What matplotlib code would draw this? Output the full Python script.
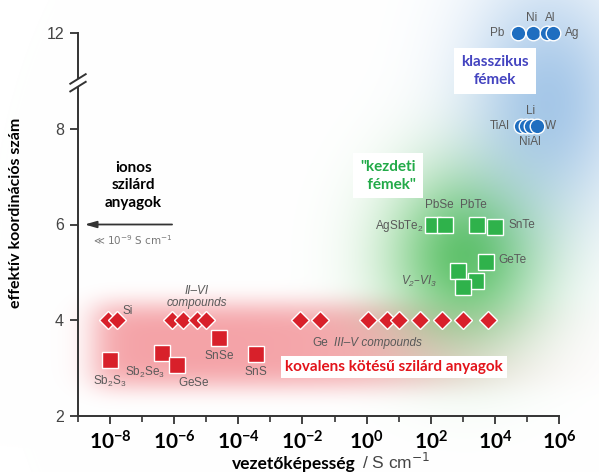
import numpy as np
import matplotlib
matplotlib.use("Agg")
import matplotlib.pyplot as plt
from matplotlib.ticker import NullFormatter, FixedLocator
from matplotlib.transforms import blended_transform_factory

plt.rcParams["font.family"] = ["Liberation Sans", "DejaVu Sans"]

# ---------------- data ----------------
# covalent solids drawn as diamonds (log10 conductivity, effective coordination number)
diamond_logs = [-8.06, -7.78, -6.07, -5.73, -5.29, -5.01, -2.08, -1.45,
                0.04, 0.64, 1.01, 1.66, 2.35, 3.00, 3.78]
diamond_cn = [4, 4, 4, 4, 4, 4, 4, 4, 4, 4, 4, 4, 4, 4, 4]

# covalent chalcogenides drawn as red squares
red_names = ["Sb_2S_3", "Sb_2Se_3", "GeSe", "SnSe", "SnS"]
red_logs = [-8.00, -6.38, -5.91, -4.60, -3.45]
red_cn = [3.17, 3.31, 3.06, 3.63, 3.29]

# incipient metals drawn as green squares
green_logs = [2.07, 2.44, 3.44, 4.00, 3.72, 2.85, 3.41, 3.00]
green_cn = [6.0, 6.0, 6.0, 5.94, 5.21, 5.02, 4.83, 4.69]

# classical metals drawn as blue circles
blue_logs = [4.72, 5.19, 5.62, 5.81, 4.81, 4.97, 5.13, 5.31]
blue_cn = [12, 12, 12, 12, 8.05, 8.05, 8.05, 8.05]

ytick_values = [2, 4, 6, 8, 12]
xtick_exponents = [-8, -6, -4, -2, 0, 2, 4, 6]


def axis_pos(v):
    """Map coordination numbers onto the broken y axis (12 sits at 10)."""
    v = np.asarray(v, dtype=float)
    return np.where(v > 9.5, v - 2.0, v)


RED = "#d8202a"
GREEN = "#2fb24b"
BLUE = "#1f6ec0"
GREY = "#5a5a5a"

W, H = 599, 472
fig = plt.figure(figsize=(W / 100, H / 100), dpi=100)

# ---------------- soft coloured glows ----------------
bg = fig.add_axes([0, 0, 1, 1], zorder=0)
yy, xx = np.mgrid[0:H, 0:W].astype(float)
img = np.ones((H, W, 3))


def blend(alpha, rgb):
    global img
    a = np.clip(alpha, 0, 1)[..., None]
    img = img * (1 - a) + np.array(rgb)[None, None, :] / 255.0 * a


sig = lambda t: 1 / (1 + np.exp(-t))
red_a = (0.45 * sig((xx - 95) / 10) * sig((440 - xx) / 45)
         * np.exp(-((yy - 345) / 44) ** 4))
blend(red_a, (232, 50, 60))
green_a = 0.85 * np.exp(-(((xx - 465) / 55) ** 2 + ((yy - 255) / 62) ** 2) / 2)
blend(green_a, (70, 185, 80))
blue_a = 0.55 * np.exp(-(((xx - 548) / 58) ** 2 + ((yy - 100) / 85) ** 2) / 2)
blend(blue_a, (95, 155, 215))
bg.imshow(img, extent=[0, W, H, 0], aspect="auto", interpolation="bilinear")
bg.axis("off")

# ---------------- main axes ----------------
ax = fig.add_axes([78 / W, 1 - 416 / H, 481 / W, 383 / H], zorder=1)
ax.patch.set_alpha(0)
ax.set_xscale("log")
ax.set_xlim(1e-9, 1e6)
ax.set_ylim(2, 9.98)

for side in ("top", "right"):
    ax.spines[side].set_visible(False)
for side in ("left", "bottom"):
    ax.spines[side].set_color("#333333")
    ax.spines[side].set_linewidth(1.4)

ax.set_yticks(axis_pos(ytick_values))
ax.set_yticklabels([str(v) for v in ytick_values], fontsize=11.5, color="#444444")
ax.tick_params(axis="y", length=6, width=1.3, color="#333333", pad=4)

ax.xaxis.set_major_locator(FixedLocator([10.0 ** e for e in xtick_exponents]))
ax.xaxis.set_minor_locator(FixedLocator([10.0 ** e for e in range(-9, 6, 2)]))
ax.xaxis.set_minor_formatter(NullFormatter())
ax.set_xticklabels([r"$\mathregular{10^{%d}}$" % e for e in xtick_exponents],
                   fontsize=15, fontweight="bold", family="Lato", color="black")
ax.tick_params(axis="x", which="major", length=6, width=1.3, color="#333333", pad=4)
ax.tick_params(axis="x", which="minor", length=4, width=1.2, color="#333333")

# axis break on the y spine
trans = blended_transform_factory(ax.transAxes, ax.transData)
ax.add_patch(plt.Rectangle((-0.01, 8.88), 0.02, 0.16, transform=trans,
                           facecolor="white", edgecolor="none", clip_on=False, zorder=5))
for yb in (8.88, 9.04):
    ax.plot([-0.016, 0.016], [yb - 0.1, yb + 0.1], transform=trans, color="#333333",
            lw=1.4, clip_on=False, zorder=6)

# ---------------- markers ----------------
ms_kw = dict(linestyle="none", markeredgecolor="white", markeredgewidth=1.0, clip_on=False)
for lx, cn in zip(diamond_logs, diamond_cn):
    ax.plot(10.0 ** lx, cn, marker="D", markersize=9.4, color=RED, zorder=3, **ms_kw)
for lx, cn in zip(red_logs, red_cn):
    ax.plot(10.0 ** lx, cn, marker="s", markersize=11.5, color=RED, zorder=3, **ms_kw)
for lx, cn in zip(green_logs, green_cn):
    ax.plot(10.0 ** lx, cn, marker="s", markersize=11, color=GREEN, zorder=3, **ms_kw)
for lx, cn in zip(blue_logs, axis_pos(blue_cn)):
    ax.plot(10.0 ** lx, cn, marker="o", markersize=10.5, color=BLUE, zorder=3, **ms_kw)

# ---------------- small grey labels ----------------
lab = dict(fontsize=8.5, color=GREY, zorder=4)
ax.text(10 ** -7.44, 4.19, "Si", ha="center", va="center", **lab)
ax.text(10 ** -5.30, 4.49, "II–VI\ncompounds", ha="center", va="center",
        style="italic", linespacing=0.95, **lab)
red_label_pos = [(-8.00, 2.73), (-6.91, 2.90), (-5.38, 2.69), (-4.60, 3.27), (-3.45, 2.92)]
for name, (lx, yv) in zip(red_names, red_label_pos):
    ax.text(10 ** lx, yv, r"$\mathregular{%s}$" % name, ha="center", va="center", **lab)
ax.text(10 ** -1.45, 3.52, "Ge", ha="center", va="center", **lab)
ax.text(10 ** 0.35, 3.52, "III–V compounds", ha="center", va="center", style="italic", **lab)
ax.text(10 ** 1.63, 4.82, r"$\mathregular{V_2}$–$\mathregular{VI_3}$", ha="center",
        va="center", style="italic", **lab)
ax.text(10 ** 4.10, 5.25, "GeTe", ha="left", va="center", **lab)
ax.text(10 ** 4.44, 5.98, "SnTe", ha="left", va="center", **lab)
ax.text(10 ** 2.26, 6.40, "PbSe", ha="center", va="center", **lab)
ax.text(10 ** 3.32, 6.40, "PbTe", ha="center", va="center", **lab)
ax.text(10 ** 1.78, 5.96, r"$\mathregular{AgSbTe_2}$", ha="right", va="center", **lab)

ax.text(10 ** 4.31, 10.0, "Pb", ha="right", va="center", **lab)
ax.text(10 ** 5.16, 10.32, "Ni", ha="center", va="center", **lab)
ax.text(10 ** 5.72, 10.32, "Al", ha="center", va="center", **lab)
ax.text(10 ** 6.19, 10.0, "Ag", ha="left", va="center", **lab)
ax.text(10 ** 5.10, 8.37, "Li", ha="center", va="center", **lab)
ax.text(10 ** 4.47, 8.05, "TiAl", ha="right", va="center", **lab)
ax.text(10 ** 5.56, 8.05, "W", ha="left", va="center", **lab)
ax.text(10 ** 5.10, 7.73, "NiAl", ha="center", va="center", **lab)

# ---------------- group captions ----------------
cap = dict(family="Lato", fontweight="bold", fontsize=11, zorder=4)
box = dict(facecolor="white", edgecolor="none", pad=5)
ax.text(10 ** 4.0, 9.21, "klasszikus\nfémek", ha="center", va="center", color="#4444c0",
        linespacing=1.35, bbox=box, **cap)
ax.text(10 ** 0.67, 7.02, "\"kezdeti\n  fémek\"", ha="center", va="center", color="#22aa48",
        linespacing=1.35, bbox=box, **cap)
ax.text(10 ** -2.55, 3.02, "kovalens kötésű szilárd anyagok", ha="left", va="center",
        color="#e3141b", bbox=dict(facecolor="white", edgecolor="none", pad=3), **cap)
ax.text(10 ** -7.28, 6.82, "ionos\nszilárd\nanyagok", ha="center", va="center",
        color="black", linespacing=1.3, **cap)

ax.annotate("", xy=(10 ** -8.88, 6.0), xytext=(10 ** -5.98, 6.0),
            arrowprops=dict(arrowstyle="-|>,head_length=0.7,head_width=0.2",
                            color="#333333", lw=1.3), zorder=4)
ax.text(10 ** -7.3, 5.67, r"≪ 10$^{-9}$ S cm$^{-1}$", ha="center", va="center",
        fontsize=7.5, color="#777777", family="DejaVu Sans")

# ---------------- axis titles ----------------
fig.text(0.594, 0.006, "vezetőképesség", ha="right", va="baseline", family="Lato",
         fontweight="bold", fontsize=12.5, color="black")
fig.text(0.604, 0.006, "/ S cm$^{-1}$", ha="left", va="baseline", fontsize=12.5,
         color="#444444")
fig.text(0.027, 0.55, "effektív koordinációs szám", ha="center", va="center", rotation=90,
         family="Lato", fontweight="bold", fontsize=11.5, color="black")

fig.savefig("out.png", dpi=100)
